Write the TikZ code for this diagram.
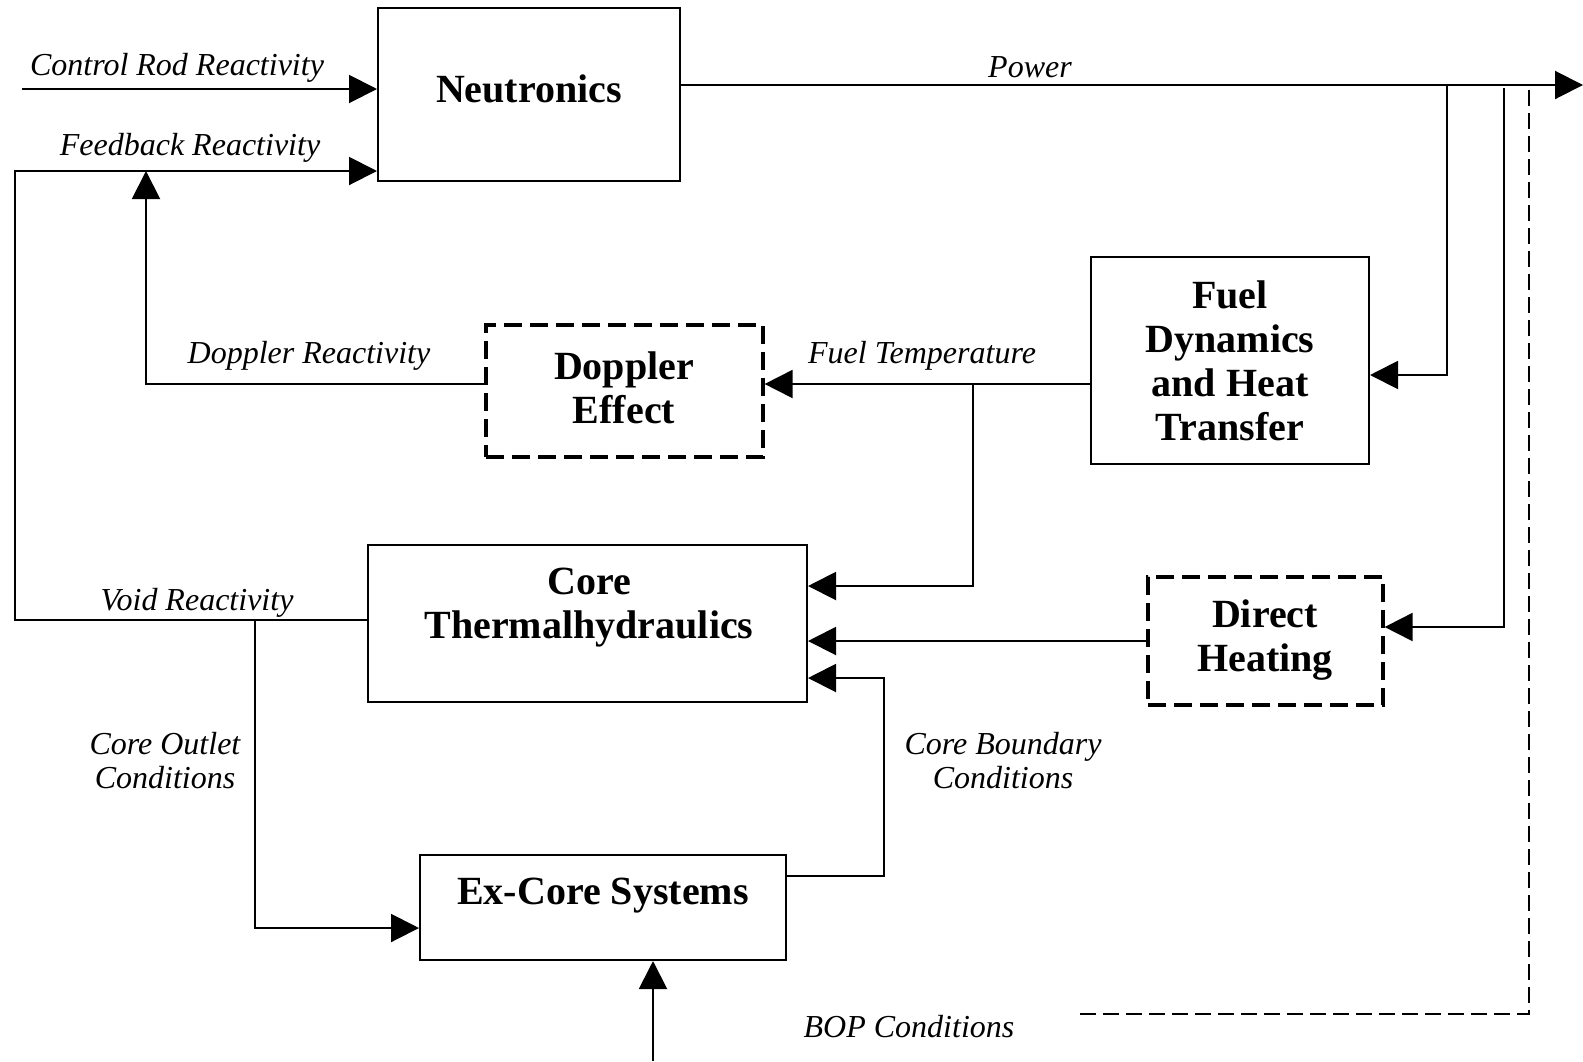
\documentclass[tikz,border=0pt]{standalone}
\usepackage{fontspec}
\setmainfont{Liberation Serif}
\usetikzlibrary{arrows.meta}

\tikzset{
  blk/.style={draw, line width=1pt, inner sep=0pt},
  dblk/.style={draw, line width=1.6pt, dash pattern=on 9pt off 4pt, inner sep=0pt},
  btxt/.style={font=\fontsize{20}{22}\selectfont\bfseries, align=center},
  itxt/.style={font=\fontsize{16}{17}\selectfont\itshape, align=center},
  sig/.style={line width=1pt, -{Triangle[length=14pt,width=14pt]}},
  bopline/.style={line width=1.1pt, dash pattern=on 8pt off 3.5pt},
}

\begin{document}
\begin{tikzpicture}[x=0.5pt, y=-0.5pt]
  \useasboundingbox (0,0) rectangle (1583,1061);

  % blocks
  \node[blk, minimum width=151pt, minimum height=86.5pt] (neut) at (529,94.5) {};
  \node[blk, minimum width=139pt, minimum height=103.5pt] (fuel) at (1230,360.5) {};
  \node[dblk, minimum width=138.5pt, minimum height=66pt] (dopp) at (624.5,391) {};
  \node[blk, minimum width=219.5pt, minimum height=78.5pt] (core) at (587.5,623.5) {};
  \node[dblk, minimum width=117.5pt, minimum height=64pt] (direct) at (1265.5,641) {};
  \node[blk, minimum width=183pt, minimum height=52.5pt] (excore) at (603,907.5) {};

  \node[btxt] (neutlbl) at (529,89) {Neutronics};
  \node[btxt] (fuellbl) at (1230,361) {Fuel\\Dynamics\\and Heat\\Transfer};
  \node[btxt] (dopplbl) at (624,388) {Doppler\\Effect};
  \node[btxt] (corelbl) at (589,608) {Core\\Thermalhydraulics};
  \node[btxt] (directlbl) at (1265,640) {Direct\\Heating};
  \node[btxt] (excorelbl) at (603,896) {Ex-Core Systems};

  % junctions
  \coordinate (crin) at (22,89);
  \coordinate (fbl) at (15,171);
  \coordinate (voidl) at (15,620);
  \coordinate (dopy) at (146,384);
  \coordinate (pwrend) at (1583,85);
  \coordinate (fbr) at (1447,85);
  \coordinate (fuelin) at (1447,375);
  \coordinate (dhtop) at (1504,88);
  \coordinate (dhin) at (1504,627);
  \coordinate (boptop) at (1529,90);
  \coordinate (bopc) at (1529,1014);
  \coordinate (bopl) at (1075,1014);
  \coordinate (fty) at (973,384);
  \coordinate (ftdown) at (973,586);
  \coordinate (cbb) at (884,876);
  \coordinate (cbc) at (884,678);
  \coordinate (cot) at (255,620);
  \coordinate (cob) at (255,928);
  \coordinate (bopin) at (653,1061);

  % connectors
  \draw[sig] (crin) -- (crin -| neut.west);
  \draw[sig] (voidl -| core.west) -- (voidl) -- (fbl) -- (fbl -| neut.west);
  \draw[sig] (dopp.west |- dopy) -- (dopy) -- (dopy |- fbl);
  \draw[sig] (neut.east |- pwrend) -- (pwrend);
  \draw[sig] (fbr) -- (fuelin) -- (fuelin -| fuel.east);
  \draw[sig] (dhtop) -- (dhin) -- (dhin -| direct.east);
  \draw[bopline] (boptop) -- (bopc) -- (bopl);
  \draw[sig] (fuel.west |- fty) -- (dopp.east |- fty);
  \draw[sig] (fty) -- (ftdown) -- (ftdown -| core.east);
  \draw[sig] (direct.west) -- (direct.west -| core.east);
  \draw[sig] (cbb -| excore.east) -- (cbb) -- (cbc) -- (cbc -| core.east);
  \draw[sig] (cot) -- (cob) -- (cob -| excore.west);
  \draw[sig] (bopin) -- (bopin |- excore.south);

  % labels
  \node[itxt] (crlbl) at (177,68) {Control Rod Reactivity};
  \node[itxt] (fblbl) at (190,148) {Feedback Reactivity};
  \node[itxt] (pwrlbl) at (1030,67) {Power};
  \node[itxt] (dreaclbl) at (309,356) {Doppler Reactivity};
  \node[itxt] (ftlbl) at (922,356) {Fuel Temperature};
  \node[itxt] (voidlbl) at (197,603) {Void Reactivity};
  \node[itxt] (colbl) at (165,761) {Core Outlet\\Conditions};
  \node[itxt] (cblbl) at (1003,761) {Core Boundary\\Conditions};
  \node[itxt] (boplbl) at (909,1027) {BOP Conditions};
\end{tikzpicture}
\end{document}
